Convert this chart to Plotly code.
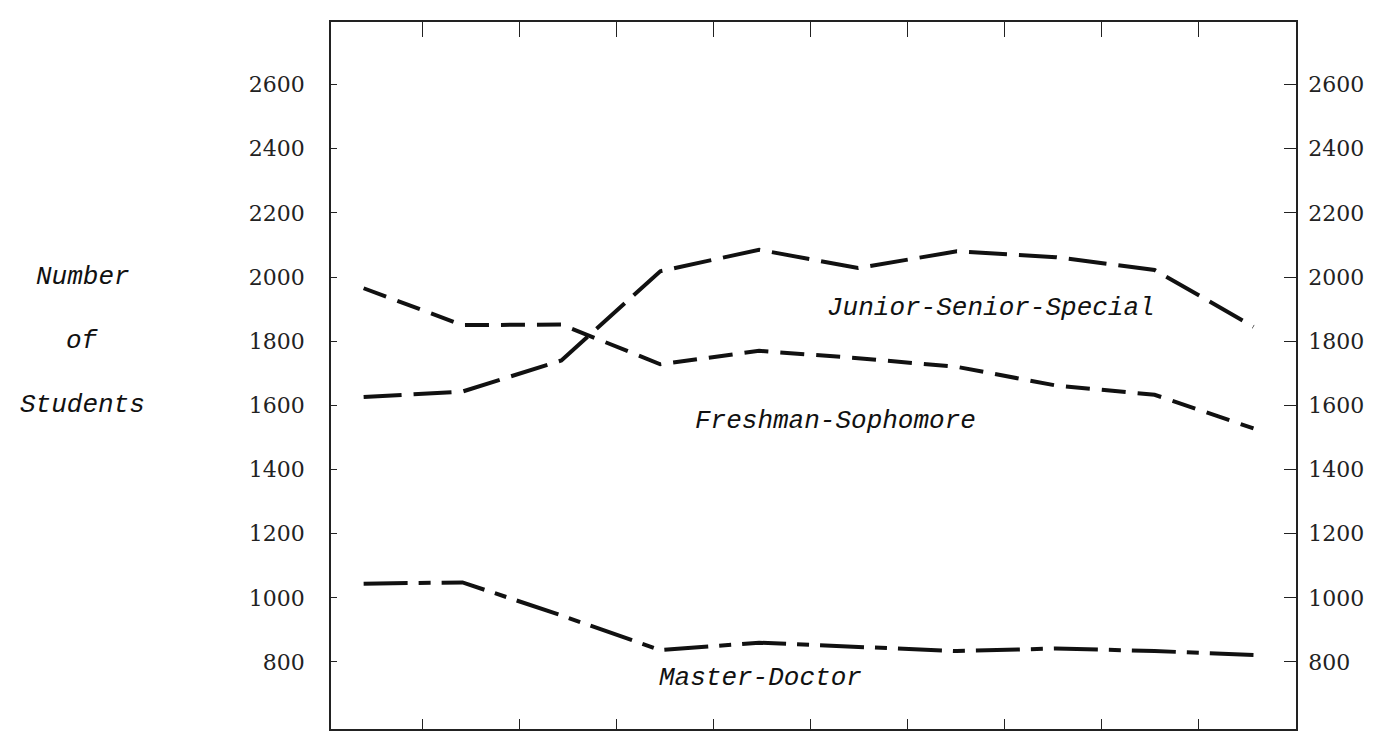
import plotly.graph_objects as go

# ---- data ----
periods = [0, 1, 2, 3, 4, 5, 6, 7, 8, 9]
freshman_sophomore = [1965, 1850, 1852, 1728, 1770, 1747, 1720, 1662, 1633, 1528]
junior_senior_special = [1626, 1643, 1740, 2018, 2085, 2028, 2080, 2062, 2022, 1845]
master_doctor = [1044, 1048, 945, 837, 860, 846, 834, 842, 834, 822]
y_ticks = [800, 1000, 1200, 1400, 1600, 1800, 2000, 2200, 2400, 2600]
x_ticks = [0.6, 1.58, 2.56, 3.54, 4.52, 5.5, 6.48, 7.46, 8.44]
title_lines = ["Number", "of", "Students"]
title_rows = [2000, 1800, 1600]

INK = "#111111"
mono_it = dict(family="Liberation Mono, Courier New, monospace", size=26, color=INK, style="italic")
serif = dict(family="DejaVu Serif, serif", size=22, color="#222222")

fig = go.Figure()
fig.add_trace(go.Scatter(x=periods, y=freshman_sophomore, mode="lines",
                         line=dict(color=INK, width=4, dash="24px,12px"),
                         name="Freshman-Sophomore", showlegend=False))
fig.add_trace(go.Scatter(x=periods, y=junior_senior_special, mode="lines",
                         line=dict(color=INK, width=4, dash="38px,12px"),
                         name="Junior-Senior-Special", showlegend=False))
fig.add_trace(go.Scatter(x=periods, y=master_doctor, mode="lines",
                         line=dict(color=INK, width=4, dash="44px,11px,12px,11px"),
                         name="Master-Doctor", showlegend=False))
# helper trace so the mirrored (top / right) axes are drawn
fig.add_trace(go.Scatter(x=[None], y=[None], xaxis="x2", yaxis="y2",
                         showlegend=False, hoverinfo="skip"))

xr = [-0.33, 9.43]
yr = [591, 2795]

fig.update_layout(
    width=1382, height=734, autosize=False,
    margin=dict(l=323, r=94, t=14, b=13),
    paper_bgcolor="white", plot_bgcolor="white",
    xaxis=dict(range=xr, showgrid=False, zeroline=False, showline=True,
               linecolor="#222", linewidth=1.5, ticks="inside", ticklen=10,
               tickwidth=1.2, tickcolor="#222", tickvals=x_ticks,
               showticklabels=False),
    xaxis2=dict(range=xr, overlaying="x", side="top", showgrid=False,
                zeroline=False, showline=True, linecolor="#222", linewidth=1.5,
                ticks="inside", ticklen=15, tickwidth=1.2, tickcolor="#222",
                tickvals=x_ticks, showticklabels=False),
    yaxis=dict(range=yr, showgrid=False, zeroline=False, showline=True,
               linecolor="#222", linewidth=1.5, ticks="inside", ticklen=6,
               tickwidth=1.2, tickcolor="#222", tickvals=y_ticks,
               tickfont=serif, ticklabelstandoff=20),
    yaxis2=dict(range=yr, overlaying="y", side="right", showgrid=False,
                zeroline=False, showline=True, linecolor="#222", linewidth=1.5,
                ticks="inside", ticklen=12, tickwidth=1.2, tickcolor="#222",
                tickvals=y_ticks, tickfont=serif, ticklabelstandoff=6),
)

# series labels
series_labels = [("Junior-Senior-Special", 6.35, 1904),
                 ("Freshman-Sophomore", 4.77, 1551),
                 ("Master-Doctor", 4.01, 750)]
for text, xv, yv in series_labels:
    fig.add_annotation(x=xv, y=yv, xref="x", yref="y", text=text,
                       showarrow=False, font=mono_it,
                       xanchor="center", yanchor="middle")

# left axis title, stacked in three rows
for text, yv in zip(title_lines, title_rows):
    fig.add_annotation(x=-0.257, y=yv, xref="paper", yref="y", text=text,
                       showarrow=False, font=mono_it,
                       xanchor="center", yanchor="middle")

fig.write_html("out.html")
